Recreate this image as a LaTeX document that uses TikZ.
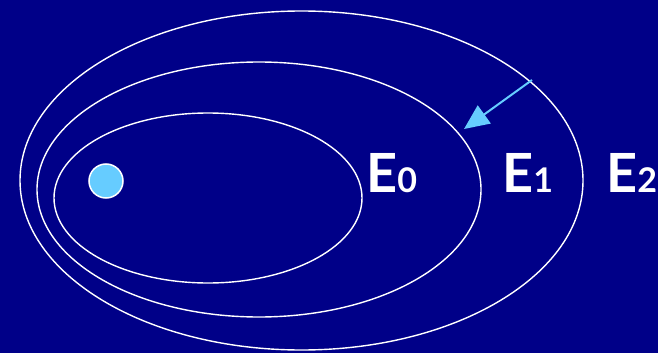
\documentclass[tikz,border=0pt]{standalone}
\usepackage{fontspec}
\setsansfont{Lato}
\usetikzlibrary{arrows.meta,positioning}
\definecolor{navybg}{HTML}{000088}
\definecolor{skyblue}{HTML}{66CCFF}
\newcommand{\levelsub}[1]{{\fontsize{34}{34}\selectfont #1}}
\tikzset{
    orbit/.style  = {draw=white, line width=1.4pt},
    level/.style  = {text=white, inner sep=0pt, anchor=base west, font=\sffamily\bfseries\fontsize{54}{54}\selectfont},
    pointer/.style = {-{Triangle[length=25pt,width=22pt]}, line width=2pt, draw=skyblue, shorten <=0pt}
}
\begin{document}
\begin{tikzpicture}[
        x=1pt, y=-1pt,
        nucleus/.style={circle, draw=white, line width=1.5pt, fill=skyblue, minimum size=34pt, inner sep=0pt}
    ]

    % --- Background ---
    \fill[navybg] (0,0) rectangle (658,353);
    \useasboundingbox (0,0) rectangle (658,353);

    % --- Orbits ---
    \draw[orbit] (301.5,180.5) ellipse [x radius=281.5pt, y radius=169.5pt];
    \draw[orbit] (259,189.5) ellipse [x radius=222pt, y radius=127.5pt];
    \draw[orbit] (208,198) ellipse [x radius=154pt, y radius=85pt];

    % --- Nucleus ---
    \node[nucleus] (core) at (106,181) {};

    % --- Energy labels ---
    \node[level] (e0) at (366,192) {E\levelsub{0}};
    \node[level] (e1) at (502,192) {E\levelsub{1}};
    \node[level] (e2) at (606,192) {E\levelsub{2}};

    % --- Transition ---
    \coordinate (outer_pt) at (532,80);
    \coordinate (middle_pt) at (464,129);
    \draw[pointer] (outer_pt) -- (middle_pt);
\end{tikzpicture}
\end{document}
